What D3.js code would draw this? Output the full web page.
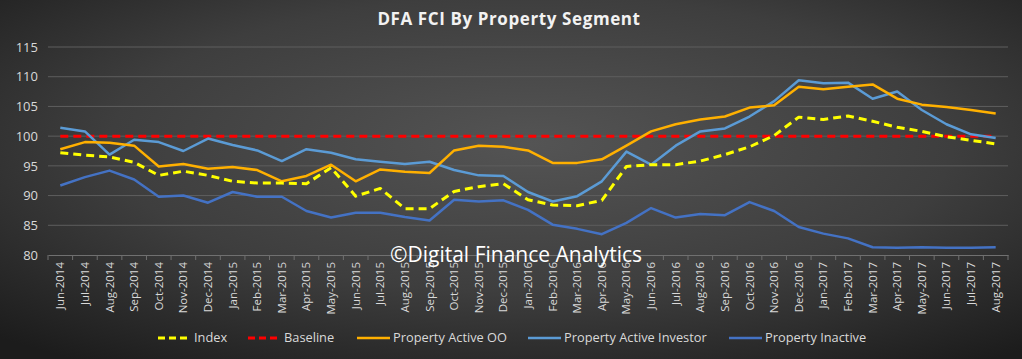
<!DOCTYPE html>
<html><head><meta charset="utf-8">
<script src="https://cdn.jsdelivr.net/npm/d3@7"></script>
<style>html,body{margin:0;padding:0;background:#222;}svg{display:block;}</style>
</head><body>
<svg id="c" width="1022" height="359"></svg>
<script>
const months = ["Jun-2014","Jul-2014","Aug-2014","Sep-2014","Oct-2014","Nov-2014","Dec-2014","Jan-2015","Feb-2015","Mar-2015","Apr-2015","May-2015","Jun-2015","Jul-2015","Aug-2015","Sep-2015","Oct-2015","Nov-2015","Dec-2015","Jan-2016","Feb-2016","Mar-2016","Apr-2016","May-2016","Jun-2016","Jul-2016","Aug-2016","Sep-2016","Oct-2016","Nov-2016","Dec-2016","Jan-2017","Feb-2017","Mar-2017","Apr-2017","May-2017","Jun-2017","Jul-2017","Aug-2017"];
const indexVals = [97.2,96.8,96.5,95.6,93.4,94.1,93.4,92.4,92.1,92.1,92.0,94.7,89.9,91.2,87.8,87.8,90.7,91.5,92.0,89.3,88.4,88.3,89.2,94.9,95.2,95.2,95.8,96.9,98.2,100.1,103.2,102.8,103.4,102.5,101.5,100.8,99.9,99.3,98.7];
const baselineVals = months.map(() => 100);
const ooVals = [97.8,99.0,98.9,98.4,94.9,95.3,94.5,94.8,94.3,92.4,93.3,95.2,92.4,94.4,94.0,93.8,97.6,98.4,98.2,97.6,95.5,95.5,96.1,98.4,100.8,102.0,102.8,103.3,104.8,105.2,108.3,107.9,108.3,108.7,106.3,105.3,104.9,104.4,103.8];
const investorVals = [101.4,100.8,96.9,99.4,99.0,97.5,99.6,98.5,97.6,95.8,97.8,97.2,96.1,95.7,95.3,95.7,94.3,93.4,93.3,90.6,89.0,89.9,92.4,97.4,95.2,98.4,100.8,101.3,103.3,105.9,109.4,108.9,109.0,106.3,107.5,104.4,102.0,100.3,99.7];
const inactiveVals = [91.7,93.1,94.2,92.7,89.8,90.0,88.8,90.6,89.8,89.8,87.4,86.3,87.1,87.1,86.4,85.8,89.3,89.0,89.2,87.6,85.1,84.4,83.5,85.4,87.9,86.3,86.9,86.7,88.9,87.4,84.7,83.6,82.8,81.3,81.2,81.3,81.2,81.2,81.3];
const yTicks = [80,85,90,95,100,105,110,115];

const series = [
  {name:"Index", vals:indexVals, color:"#ffff00", dash:"8,5", width:3},
  {name:"Baseline", vals:baselineVals, color:"#ff0000", dash:"8,5", width:3},
  {name:"Property Active OO", vals:ooVals, color:"#ffb000", dash:null, width:2.5},
  {name:"Property Active Investor", vals:investorVals, color:"#5b9bd5", dash:null, width:2.5},
  {name:"Property Inactive", vals:inactiveVals, color:"#4472c4", dash:null, width:2.5}
];
const drawOrder = [1,4,3,2,0];

const W = 1022, H = 359;
const svg = d3.select("#c");
const defs = svg.append("defs");
const rg = defs.append("radialGradient").attr("id","bg").attr("cx","52%").attr("cy","40%").attr("r","75%")
  .attr("gradientUnits","objectBoundingBox");
rg.append("stop").attr("offset","0%").attr("stop-color","#545454");
rg.append("stop").attr("offset","55%").attr("stop-color","#3e3e3e");
rg.append("stop").attr("offset","100%").attr("stop-color","#1c1c1c");
svg.append("rect").attr("width",W).attr("height",H).attr("fill","url(#bg)");

const m = {left:48, right:1008, top:47, bottom:255};
const x = d3.scaleBand().domain(months).range([m.left, m.right]);
const y = d3.scaleLinear().domain([80,115]).range([m.bottom, m.top]);

// gridlines
svg.append("g").selectAll("line").data(yTicks.filter(t=>t>80)).join("line")
  .attr("x1",m.left).attr("x2",m.right).attr("y1",d=>y(d)).attr("y2",d=>y(d))
  .attr("stroke","#5e5e5e").attr("stroke-width",1);

// y axis
const ya = svg.append("g").attr("transform",`translate(${m.left},0)`)
  .call(d3.axisLeft(y).tickValues(yTicks).tickSize(0).tickPadding(10));
ya.select(".domain").remove();
ya.selectAll("text").attr("fill","#d9d9d9").style("font-family","'Open Sans',sans-serif").style("font-size","13px");

// x axis
const xa = svg.append("g").attr("transform",`translate(0,${m.bottom})`)
  .call(d3.axisBottom(x).tickSize(0));
xa.select(".domain").attr("stroke","#707070");
xa.selectAll(".tick line").remove();
xa.append("g").selectAll("line").data(months.concat([null])).join("line")
  .attr("x1",(d,i)=>m.left + i*x.step()).attr("x2",(d,i)=>m.left + i*x.step())
  .attr("y1",0).attr("y2",5).attr("stroke","#707070");
xa.selectAll(".tick text")
  .attr("fill","#d9d9d9").style("font-family","'Open Sans',sans-serif").style("font-size","11.5px")
  .attr("text-anchor","end").attr("dy","0.35em").attr("dx","0")
  .attr("transform","translate(0,7) rotate(-90)").attr("x",0).attr("y",0);

// lines
const line = d3.line().x((d,i)=>x(months[i]) + x.bandwidth()/2).y(d=>y(d));
drawOrder.forEach(k=>{
  const s = series[k];
  svg.append("path").datum(s.vals).attr("d",line)
    .attr("fill","none").attr("stroke",s.color).attr("stroke-width",s.width)
    .attr("stroke-dasharray",s.dash).attr("stroke-linejoin","round");
});

// watermark
svg.append("text").attr("x",516).attr("y",262).attr("text-anchor","middle")
  .attr("fill","#ffffff").style("font-family","'Open Sans',sans-serif").style("font-size","21px")
  .text("©Digital Finance Analytics");

// title
svg.append("text").attr("x",509).attr("y",25).attr("text-anchor","middle")
  .attr("fill","#f2f2f2").style("font-family","'Open Sans',sans-serif").style("font-size","17px").style("font-weight","bold")
  .attr("letter-spacing","0.6px")
  .text("DFA FCI By Property Segment");

// legend
const legX = [158, 248, 357, 528, 729];
const lg = svg.append("g");
series.forEach((s,i)=>{
  const g = lg.append("g").attr("transform",`translate(${legX[i]},338)`);
  g.append("line").attr("x1",0).attr("x2",33).attr("y1",0).attr("y2",0)
    .attr("stroke",s.color).attr("stroke-width",s.width).attr("stroke-dasharray",s.dash ? "7,4" : null);
  g.append("text").attr("x",36).attr("y",0).attr("dy","0.35em")
    .attr("fill","#d9d9d9").style("font-family","'Open Sans',sans-serif").style("font-size","12.8px")
    .text(s.name);
});
</script>
</body></html>
